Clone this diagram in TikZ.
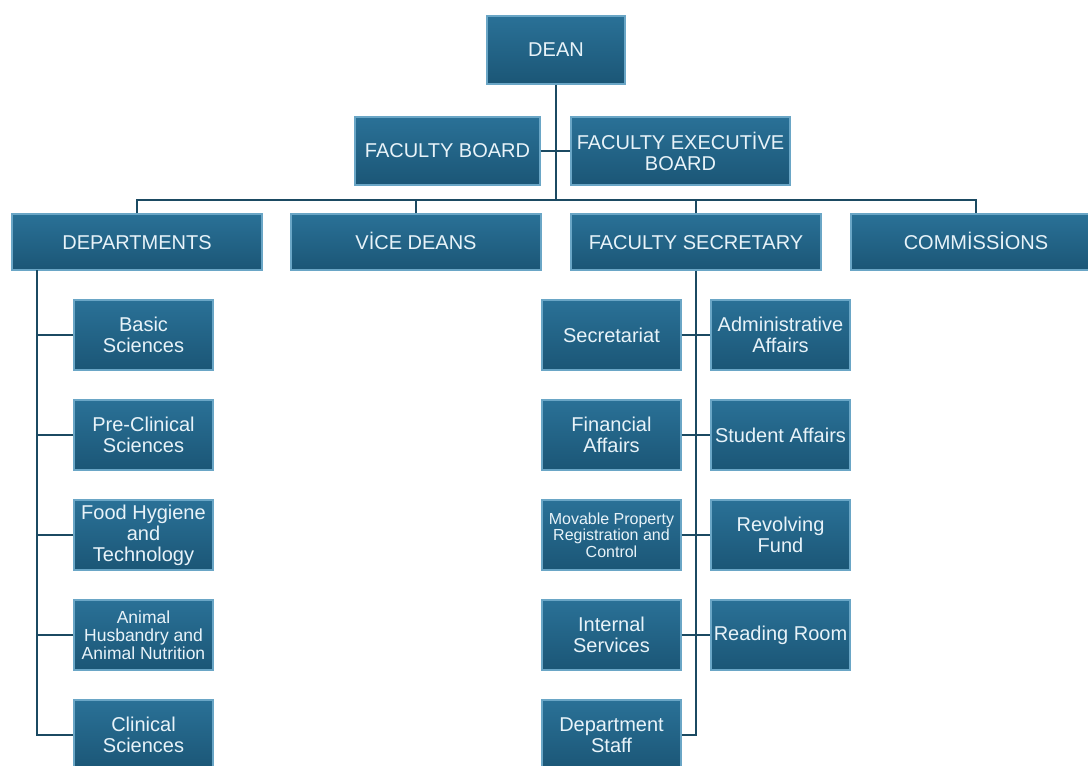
\documentclass[tikz,border=0pt]{standalone}
\usepackage{fontspec}
\setmainfont{Liberation Sans}
\definecolor{boxtop}{HTML}{2A7197}
\definecolor{boxbot}{HTML}{1B5676}
\definecolor{boxedge}{HTML}{6AA6C6}
\definecolor{boxtext}{HTML}{E8F3F9}
\definecolor{linecol}{HTML}{1B4A62}
\tikzset{
  orgbox/.style={draw=boxedge, line width=1.2pt, top color=boxtop, bottom color=boxbot,
    text=boxtext, align=center, inner sep=1pt, font=\fontsize{20}{21}\selectfont},
  widebox/.style={orgbox, minimum width=250, minimum height=56, text height=14.5, text depth=0.5},
  unitbox/.style={orgbox, minimum width=139, minimum height=70},
  conn/.style={draw=linecol, line width=2.2pt},
}
\begin{document}
\begin{tikzpicture}[x=1pt, y=-1pt]
  \useasboundingbox (0,0) rectangle (1088,766);
  % top
  \node[orgbox, minimum width=138, minimum height=68] (dean) at (556,50) {DEAN};
  \node[orgbox, minimum width=185, minimum height=68] (fb) at (447.5,151) {FACULTY BOARD};
  \node[orgbox, minimum width=219, minimum height=68] (feb) at (680.5,151) {FACULTY EXECUT\.IVE\\BOARD};
  \coordinate (bus) at (556,200);
  % second row
  \node[widebox] (dep) at (137,242) {DEPARTMENTS};
  \node[widebox] (vice) at (416,242) {V\.ICE DEANS};
  \node[widebox] (sec) at (696,242) {FACULTY SECRETARY};
  \node[widebox] (com) at (976,242) {COMM\.ISS\.IONS};
  % departments
  \node[unitbox] (bas) at (143.5,335) {Basic\\Sciences};
  \node[unitbox] (pre) at (143.5,435) {Pre-Clinical\\Sciences};
  \node[unitbox] (food) at (143.5,535) {Food Hygiene\\and\\Technology};
  \node[unitbox, font=\fontsize{17.5}{18}\selectfont] (ani) at (143.5,635) {Animal\\Husbandry and\\Animal Nutrition};
  \node[unitbox] (clin) at (143.5,735) {Clinical\\Sciences};
  % secretary units
  \node[unitbox] (secr) at (611.5,335) {Secretariat};
  \node[unitbox] (fin) at (611.5,435) {Financial\\Affairs};
  \node[unitbox, font=\fontsize{16}{16.5}\selectfont] (mov) at (611.5,535) {Movable Property\\Registration and\\Control};
  \node[unitbox] (int) at (611.5,635) {Internal\\Services};
  \node[unitbox] (staff) at (611.5,735) {Department\\Staff};
  \node[unitbox] (adm) at (780.5,335) {Administrative\\Affairs};
  \node[unitbox] (stu) at (780.5,435) {Student Affairs};
  \node[unitbox] (rev) at (780.5,535) {Revolving\\Fund};
  \node[unitbox] (read) at (780.5,635) {Reading Room};
  % connectors
  \draw[conn] (dean.south) -- (bus);
  \draw[conn] (fb.east) -- (feb.west);
  \draw[conn] (dep.north) |- (bus) -| (com.north);
  \draw[conn] (vice.north) -- (vice.north |- bus);
  \draw[conn] (sec.north) -- (sec.north |- bus);
  \coordinate (deptop) at (37,270);
  \draw[conn] (deptop) |- (clin.west);
  \foreach \n in {bas,pre,food,ani}
    \draw[conn] (\n.west) -- (\n.west -| deptop);
  \draw[conn] (sec.south) |- (staff.east);
  \draw[conn] (secr.east) -- (adm.west);
  \draw[conn] (fin.east) -- (stu.west);
  \draw[conn] (mov.east) -- (rev.west);
  \draw[conn] (int.east) -- (read.west);
\end{tikzpicture}
\end{document}
